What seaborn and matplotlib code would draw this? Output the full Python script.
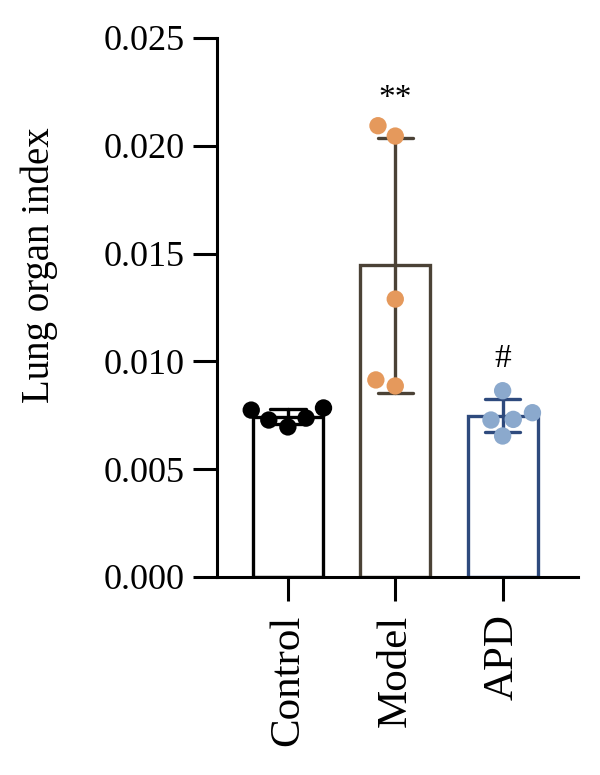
import numpy as np
import pandas as pd
import seaborn as sns
import matplotlib.pyplot as plt

# values
groups = ['Control', 'Model', 'APD']
control = [0.00728, 0.00784, 0.00737, 0.00774, 0.00696]
model = [0.02093, 0.02045, 0.01289, 0.00886, 0.00914]
apd = [0.00864, 0.00762, 0.00731, 0.00728, 0.00654]

edge_colors = ['#000000', '#4B4236', '#2E4A7D']
dot_colors = ['#000000', '#E5995C', '#8BA9CD']
marks = ['', '**', '#']
mark_y = [0, 0.0222, 0.0101]

df = pd.DataFrame({
    'group': ['Control'] * len(control) + ['Model'] * len(model) + ['APD'] * len(apd),
    'value': control + model + apd,
})

sns.set_style('ticks')
plt.rcParams['font.family'] = ['Liberation Serif', 'DejaVu Serif']
plt.rcParams['text.color'] = 'black'
plt.rcParams['axes.labelcolor'] = 'black'
plt.rcParams['xtick.color'] = 'black'
plt.rcParams['ytick.color'] = 'black'

fig = plt.figure(figsize=(6, 7.75), dpi=100)
ax = fig.add_axes([0.3617, 0.2555, 0.6013, 0.6955])

sns.barplot(data=df, x='group', y='value', hue='group', order=groups,
            palette=edge_colors, fill=False, saturation=1, width=0.65,
            errorbar='sd', capsize=0.33, linewidth=2.4,
            err_kws={'linewidth': 2.4}, legend=False, ax=ax)

# recolour bars + error bars per group
for i, p in enumerate(ax.patches):
    p.set_edgecolor(edge_colors[i])
    p.set_facecolor('white')
    p.set_linewidth(2.4)
for ln in ax.lines:
    xs = np.asarray(ln.get_xdata(), dtype=float)
    k = int(round(np.nanmean(xs)))
    ln.set_color(edge_colors[k])
    ln.set_linewidth(2.4)

for i, m in enumerate(marks):
    if m:
        ax.text(i, mark_y[i], m, ha='center', va='center', fontsize=24)

# swarm laid out with a slightly bigger marker so the dots spread like the
# original, then shrunk back to the real dot size
n_before = len(ax.collections)
sns.swarmplot(data=df, x='group', y='value', hue='group', order=groups,
              palette=dot_colors, size=14, linewidth=0, legend=False,
              zorder=4, ax=ax)

ax.set_ylim(0, 0.025)
ax.set_xlim(-0.66, 2.70)
ax.set_yticks([0, 0.005, 0.010, 0.015, 0.020, 0.025])
ax.set_yticklabels(['0.000', '0.005', '0.010', '0.015', '0.020', '0.025'])
ax.set_xticks(range(3))
ax.set_xticklabels(groups, rotation=90)
ax.set_xlabel('')
ax.set_ylabel('Lung organ index', fontsize=28)
ax.yaxis.set_label_coords(-0.44, 0.579)
ax.tick_params(axis='both', length=17, width=2.2, pad=6)
ax.tick_params(axis='y', labelsize=26)
ax.tick_params(axis='x', labelsize=31, pad=10)
for s in ['left', 'bottom']:
    ax.spines[s].set_linewidth(2.2)
    ax.spines[s].set_color('black')
sns.despine(ax=ax)

fig.canvas.draw()
for c in ax.collections[n_before:]:
    if 'draw' in c.__dict__:
        del c.draw
    c.set_sizes([12.5 ** 2])

fig.savefig('out.png', dpi=100)
